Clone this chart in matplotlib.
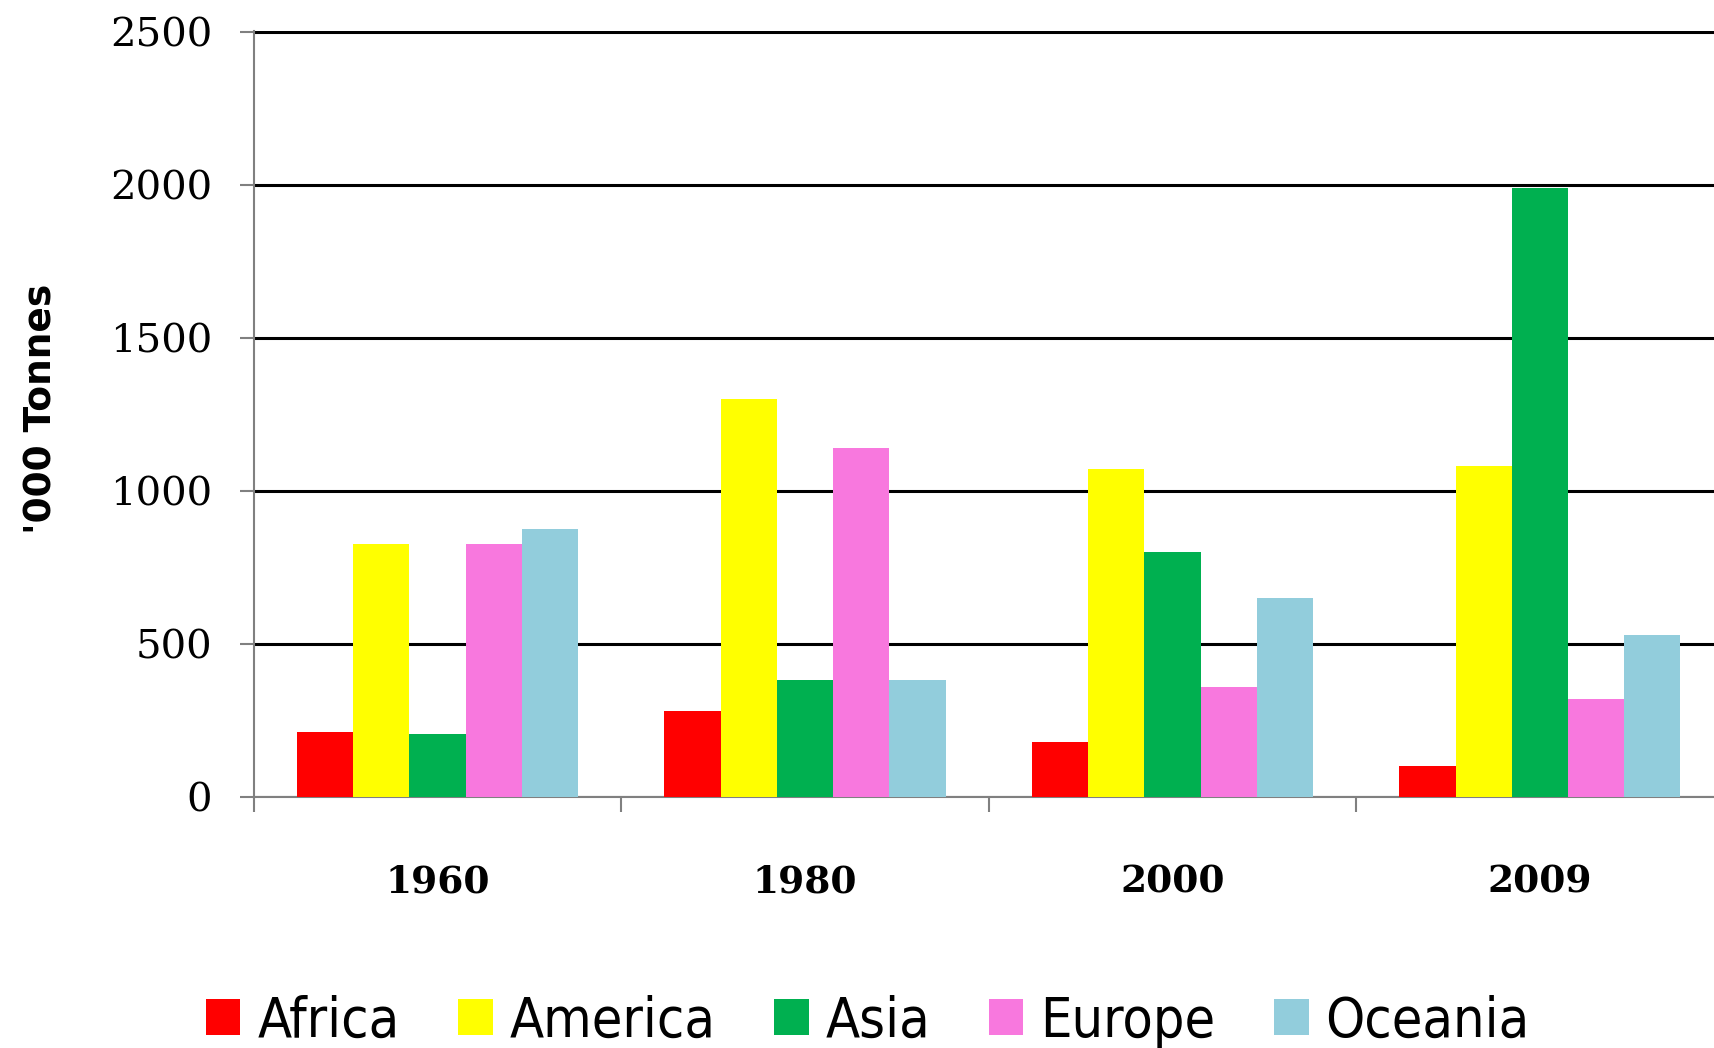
import numpy as np
import matplotlib
matplotlib.use("Agg")
import matplotlib.pyplot as plt

years = ["1960", "1980", "2000", "2009"]
regions = ["Africa", "America", "Asia", "Europe", "Oceania"]
africa = [210, 280, 180, 100]
america = [825, 1300, 1070, 1080]
asia = [205, 380, 800, 1990]
europe = [825, 1140, 360, 320]
oceania = [875, 380, 650, 530]
colors = ["#FF0000", "#FFFF00", "#00B050", "#F878DE", "#92CDDC"]

series = [africa, america, asia, europe, oceania]

fig = plt.figure(figsize=(17.15, 10.48), dpi=100)
ax = fig.add_axes([0.148, 0.2398, 0.857, 0.7306])

x = np.arange(len(years))
width = 0.153
for i, (name, vals, c) in enumerate(zip(regions, series, colors)):
    ax.bar(x + (i - 2) * width, vals, width, color=c, label=name, zorder=3)

ax.set_xlim(-0.5, len(years) - 0.5)
ax.set_ylim(0, 2503)
ax.set_yticks(range(0, 2501, 500))
ax.yaxis.grid(True, color="black", linewidth=2.2, zorder=0)
ax.set_axisbelow(True)

for s in ["top", "right"]:
    ax.spines[s].set_visible(False)
for s in ["left", "bottom"]:
    ax.spines[s].set_color("#808080")
    ax.spines[s].set_linewidth(1.5)

# year labels in the middle, separator ticks between groups
ax.set_xticks(x)
ax.set_xticklabels(years, family="DejaVu Serif", fontsize=27, fontweight="semibold")
ax.set_xticks(np.arange(-0.5, len(years), 1.0), minor=True)
ax.tick_params(axis="x", which="major", length=0, pad=48)
ax.tick_params(axis="x", which="minor", length=11, width=1.5, color="#808080")
ax.tick_params(axis="y", length=10, width=1.5, color="#808080", pad=20, labelsize=29)
for lab in ax.get_yticklabels():
    lab.set_family("DejaVu Serif")

fig.text(0.024, 0.61, "'000 Tonnes", rotation=90, fontsize=27, fontweight="bold",
         ha="center", va="center")

leg_font = {"family": ["DejaVu Sans"], "size": 40, "stretch": "condensed"}
fig.legend(loc="center", bbox_to_anchor=(0.506, 0.025), ncol=5, frameon=False,
           prop=leg_font, handlelength=0.62, handleheight=0.62,
           handletextpad=0.3, columnspacing=1.06)

fig.savefig("out.png", dpi=100)
